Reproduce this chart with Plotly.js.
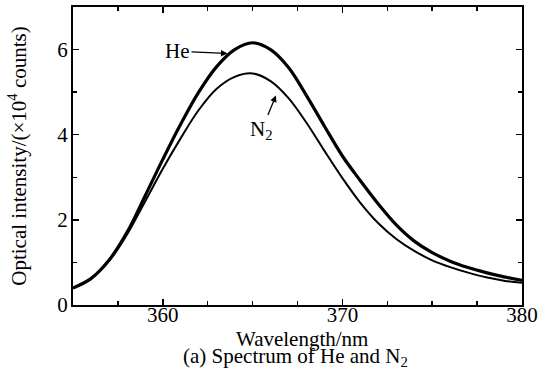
<!DOCTYPE html>
<html>
<head>
<meta charset="utf-8">
<script src="https://cdn.plot.ly/plotly-3.0.1.min.js"></script>
<style>html,body{margin:0;padding:0;background:#fff;}#chart{width:539px;height:374px;}</style>
</head>
<body>
<div id="chart"></div>
<script>
const wavelength = [355,356,357,358,359,360,361,362,363,364,365,366,367,368,369,370,371,372,373,374,375,376,377,378,379,380];
const heIntensity = [0.40,0.62,1.05,1.70,2.55,3.42,4.25,5.00,5.60,6.00,6.16,6.00,5.58,4.92,4.20,3.50,2.92,2.37,1.88,1.50,1.23,1.03,0.88,0.76,0.66,0.58];
const n2Intensity = [0.40,0.62,1.03,1.65,2.42,3.20,3.92,4.58,5.08,5.36,5.44,5.26,4.86,4.28,3.62,2.98,2.40,1.92,1.55,1.27,1.05,0.89,0.76,0.65,0.57,0.52];
const xTickVals = [360,370,380];
const yTickVals = [0,2,4,6];

const font = {family: 'Liberation Serif, Times New Roman, serif', color: '#000', size: 21};

const traces = [
  {x: wavelength, y: heIntensity, mode: 'lines', name: 'He',
   line: {color: '#000', width: 3.2, shape: 'spline', smoothing: 1}},
  {x: wavelength, y: n2Intensity, mode: 'lines', name: 'N2',
   line: {color: '#000', width: 2, shape: 'spline', smoothing: 1}}
];

const layout = {
  width: 539, height: 374,
  margin: {l: 73, r: 17, t: 7, b: 69},
  paper_bgcolor: '#fff', plot_bgcolor: '#fff',
  showlegend: false,
  font: font,
  xaxis: {
    range: [355, 380], tickvals: xTickVals, ticktext: xTickVals.map(String),
    ticks: 'inside', ticklen: 6, tickwidth: 1.5, tickcolor: '#000',
    minor: {dtick: 2.5, tick0: 355, ticks: 'inside', ticklen: 4, tickwidth: 1.5, tickcolor: '#000'},
    showline: true, linecolor: '#000', linewidth: 2, mirror: 'allticks',
    showgrid: false, zeroline: false,
    tickfont: font, ticklabelstandoff: -10
  },
  yaxis: {
    range: [0, 7], tickvals: yTickVals, ticktext: yTickVals.map(String),
    ticks: 'inside', ticklen: 6, tickwidth: 1.5, tickcolor: '#000',
    minor: {dtick: 1, tick0: 0, ticks: 'inside', ticklen: 4, tickwidth: 1.5, tickcolor: '#000'},
    showline: true, linecolor: '#000', linewidth: 2, mirror: 'allticks',
    showgrid: false, zeroline: false,
    tickfont: font, ticklabelstandoff: -1,
    title: {text: 'Optical intensity/(×10<sup>4</sup> counts)', font: font, standoff: 25}
  },
  annotations: [
    {x: 363.6, y: 5.91, xref: 'x', yref: 'y', text: 'He', showarrow: true,
     ax: -50, ay: -2, arrowhead: 2, arrowsize: 1, arrowwidth: 1.3, arrowcolor: '#000', font: font},
    {x: 366.3, y: 4.92, xref: 'x', yref: 'y', text: 'N<sub>2</sub>', showarrow: true,
     ax: -14, ay: 34, arrowhead: 2, arrowsize: 1, arrowwidth: 1.3, arrowcolor: '#000', font: font},
    {x: 0.511, y: 0, xref: 'paper', yref: 'paper', yshift: -34, text: 'Wavelength/nm',
     showarrow: false, font: font, yanchor: 'middle'},
    {x: 0.496, y: 0, xref: 'paper', yref: 'paper', yshift: -52, text: '(a) Spectrum of He and N<sub>2</sub>',
     showarrow: false, font: font, yanchor: 'middle'}
  ]
};

Plotly.newPlot('chart', traces, layout, {displayModeBar: false, staticPlot: true});
</script>
</body>
</html>
